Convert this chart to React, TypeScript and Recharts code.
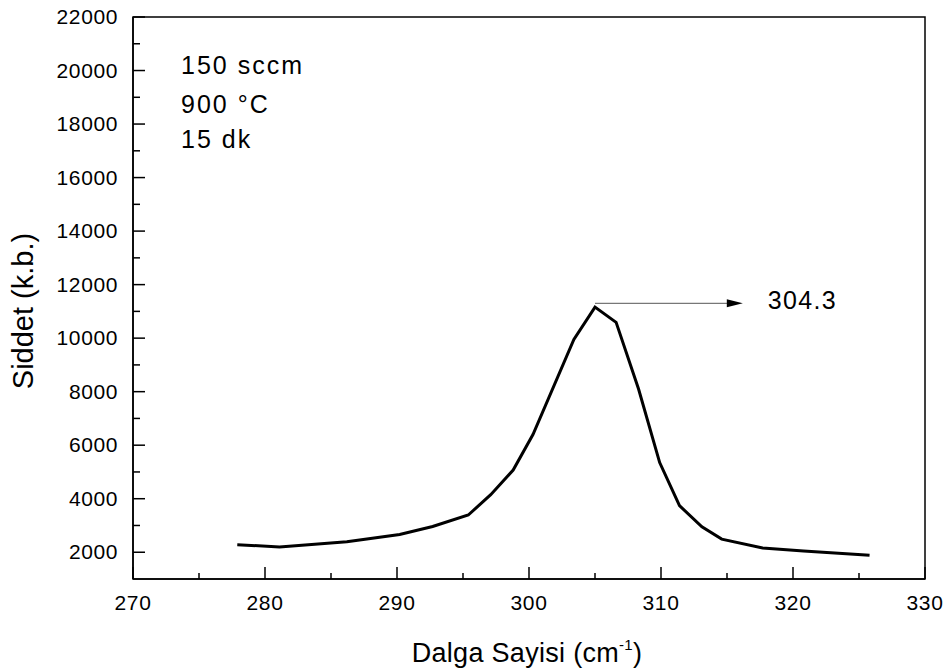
import { Customized, Line, LineChart, ReferenceLine, XAxis, YAxis } from "recharts";

// Raman peak, 150 sccm / 900 °C / 15 dk
const WAVENUMBER = [277.9, 281.1, 286.2, 290.2, 292.7, 295.4, 297.1, 298.8, 300.3, 303.4, 305.0, 306.6, 308.3, 309.9, 311.4, 313.1, 314.6, 317.7, 320.8, 325.8];
const INTENSITY = [2280, 2200, 2390, 2660, 2960, 3390, 4150, 5070, 6400, 9950, 11160, 10590, 8100, 5350, 3740, 2950, 2490, 2160, 2050, 1890];

const X_TICKS = [270, 275, 280, 285, 290, 295, 300, 305, 310, 315, 320, 325, 330];
const Y_TICKS = [2000, 3000, 4000, 5000, 6000, 7000, 8000, 9000, 10000, 11000, 12000, 13000, 14000, 15000, 16000, 17000, 18000, 19000, 20000, 21000, 22000];
const NOTES = ["150 sccm", "900 °C", "15 dk"];
const PEAK = { from: 305.0, to: 316.2, level: 11300, label: "304.3" };

const data = WAVENUMBER.map((x, i) => ({ x, y: INTENSITY[i] }));

const FONT = "'Liberation Sans', Arial, sans-serif";
const LEFT = 133;
const RIGHT = 925;
const TOP = 17;
const BOTTOM = 579;

function XTick({ x, payload }: any) {
  const major = payload.value % 10 === 0;
  return (
    <g>
      <line x1={x} x2={x} y1={BOTTOM} y2={BOTTOM - (major ? 12 : 6)} stroke="#000" strokeWidth={1.5} />
      {major && (
        <text x={x} y={BOTTOM + 31} textAnchor="middle" fontSize={21} letterSpacing={0.6} fill="#000" fontFamily={FONT}>
          {payload.value}
        </text>
      )}
    </g>
  );
}

function YTick({ y, payload }: any) {
  const major = payload.value % 2000 === 0;
  return (
    <g>
      <line x1={LEFT} x2={LEFT + (major ? 12 : 7)} y1={y} y2={y} stroke="#000" strokeWidth={1.5} />
      {major && (
        <text x={LEFT - 15} y={y + 7} textAnchor="end" fontSize={21} letterSpacing={0.6} fill="#000" fontFamily={FONT}>
          {payload.value}
        </text>
      )}
    </g>
  );
}

function Arrow({ x1, y1, x2 }: any) {
  return (
    <g>
      <line x1={x1} y1={y1} x2={x2 - 12} y2={y1} stroke="#777" strokeWidth={1.2} />
      <polygon points={`${x2 - 16},${y1 - 4} ${x2},${y1} ${x2 - 16},${y1 + 4}`} fill="#000" />
      <text x={x2 + 25} y={y1 + 6} fontSize={25} letterSpacing={1.3} fill="#000" fontFamily={FONT}>
        {PEAK.label}
      </text>
    </g>
  );
}

function Texts() {
  const baselines = [74, 113, 148];
  return (
    <g fontFamily={FONT} fill="#000">
      <rect x={LEFT} y={TOP} width={RIGHT - LEFT} height={BOTTOM - TOP} fill="none" stroke="#000" strokeWidth={1.5} />
      {NOTES.map((t, i) => (
        <text key={t} x={181} y={baselines[i]} fontSize={25} letterSpacing={2}>
          {t}
        </text>
      ))}
      <text x={527} y={662} textAnchor="middle" fontSize={27} letterSpacing={0.3}>
        Dalga Sayisi (cm
        <tspan fontSize={15} dy={-12}>-1</tspan>
        <tspan dy={12}>)</tspan>
      </text>
      <text transform="translate(33,311) rotate(-90)" textAnchor="middle" fontSize={29}>
        Siddet (k.b.)
      </text>
    </g>
  );
}

export default function App() {
  return (
    <div style={{ position: "absolute", left: 0, top: 0, background: "#fff" }}>
      <LineChart width={951} height={672} data={data} margin={{ top: TOP, right: 951 - RIGHT, bottom: 53, left: 73 }}>
        <XAxis
          dataKey="x"
          type="number"
          domain={[270, 330]}
          ticks={X_TICKS}
          interval={0}
          height={40}
          tickLine={false}
          axisLine={{ stroke: "#000", strokeWidth: 1.5 }}
          tick={<XTick />}
        />
        <YAxis
          type="number"
          domain={[1000, 22000]}
          ticks={Y_TICKS}
          interval={0}
          width={60}
          tickLine={false}
          axisLine={{ stroke: "#000", strokeWidth: 1.5 }}
          tick={<YTick />}
        />
        <Line dataKey="y" type="linear" stroke="#000" strokeWidth={3} dot={false} isAnimationActive={false} />
        <ReferenceLine
          segment={[
            { x: PEAK.from, y: PEAK.level },
            { x: PEAK.to, y: PEAK.level },
          ]}
          shape={<Arrow />}
        />
        <Customized component={<Texts />} />
      </LineChart>
    </div>
  );
}
